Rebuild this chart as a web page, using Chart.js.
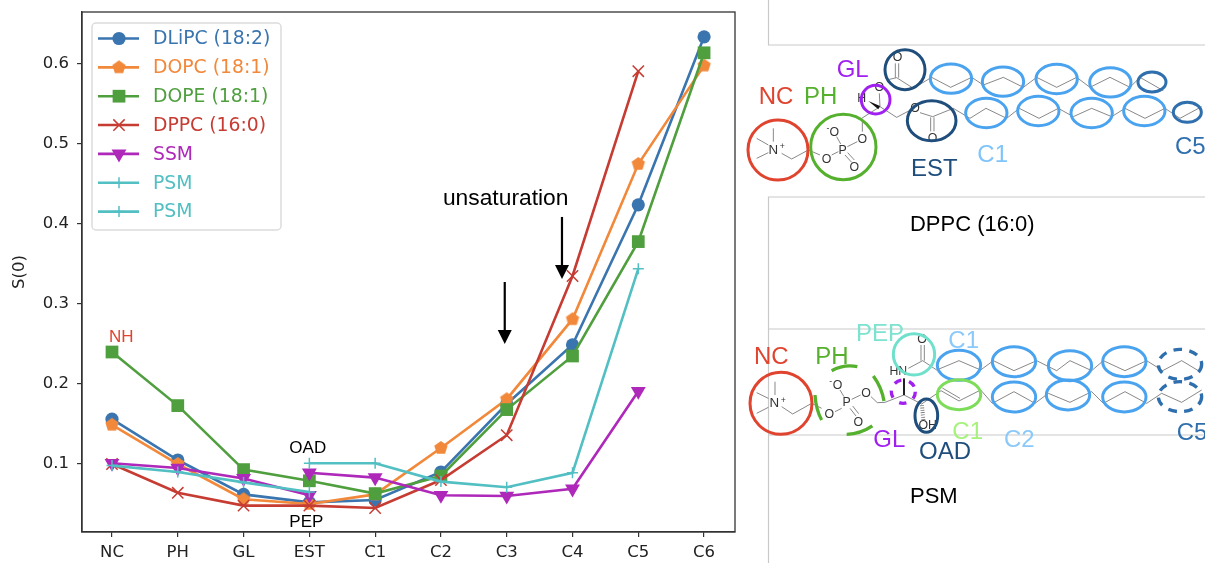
<!DOCTYPE html>
<html>
<head>
<meta charset="utf-8">
<title>S(0)</title>
<script src="https://cdn.jsdelivr.net/npm/chart.js@4"></script>
<style>
  html, body { margin: 0; padding: 0; background: #fff; }
  #wrap { position: relative; width: 1205px; height: 563px; overflow: hidden; }
  #myChart { position: absolute; left: 0; top: 0; }
  #scheme { position: absolute; left: 0; top: 0; pointer-events: none; }
  #scheme text { font-family: "Liberation Sans", sans-serif; }
  .box { fill: none; stroke: #c9c9c9; stroke-width: 1.2; }
  .bond { fill: none; stroke: #5c5c5c; stroke-width: 2.2; }
  .atom { font-size: 37px; fill: #333; text-anchor: middle; }
  .lab { font-size: 72px; }
  .ring { fill: none; stroke-width: 9; }
</style>
</head>
<body>
<div id="wrap">
<canvas id="myChart" width="1205" height="563"></canvas>
<svg id="scheme" width="1205" height="563" viewBox="0 0 1205 563">
  <!-- grey frame lines left over from the molecule panels -->
  <path class="box" d="M768.5 0V45H1205M768.5 563V197H1205M768.5 329H1205M768.5 435H1205"/>

  <!-- DPPC, coordinates in 3x units -->
  <g transform="translate(740,0) scale(0.33333)">
    <path class="bond" d="M440 240L470 233L520 265L575 232L632 262L695 232L730 255L790 232L850 262L890 232L950 262L1010 232L1050 262L1110 232L1170 262L1200 232L1270 272"/>
    <path class="bond" d="M365 355L420 320L470 352L508 332M540 338L578 350L640 325L690 355L738 325L800 355L838 325L897 355L955 325L1000 350L1055 325L1115 350L1155 325L1215 355L1275 325L1320 355L1385 320"/>
    <path class="bond" d="M466 233V190M476 233V190M572 352V394M582 352V394M418 280L420 320"/>
    <path class="bond" d="M100 385V425M50 415L85 435M50 475L85 458M125 460L155 477L205 450L240 465M275 465L295 455M290 410L302 432M315 465L335 487M323 458L343 480M322 440L352 425M367 395V360"/>
    <path d="M385 303L420 318L415 328Z" fill="#111"/>
    <text class="atom" x="473" y="183">O</text>
    <text class="atom" x="418" y="273">O</text>
    <text class="atom" x="525" y="336">O</text>
    <text class="atom" x="578" y="426">O</text>
    <text class="atom" x="365" y="306">H</text>
    <text class="atom" x="100" y="462" style="font-size:40px">N</text>
    <text class="atom" x="127" y="448" style="font-size:26px">+</text>
    <text class="atom" x="260" y="488">O</text>
    <text class="atom" x="308" y="462">P</text>
    <text class="atom" x="283" y="408">O</text>
    <text class="atom" x="264" y="393" style="font-size:26px">-</text>
    <text class="atom" x="343" y="512">O</text>
    <text class="atom" x="367" y="428">O</text>
    <circle class="ring" cx="114" cy="450" r="90" stroke="#e0432e"/>
    <circle class="ring" cx="310" cy="441" r="98" stroke="#55b02e"/>
    <circle class="ring" cx="407" cy="299" r="43" stroke="#a020f0"/>
    <circle class="ring" cx="495" cy="209" r="60" stroke="#1f4e7d"/>
    <ellipse class="ring" cx="575" cy="362" rx="73" ry="60" stroke="#1f4e7d"/>
    <g stroke="#4aa3ef">
      <ellipse class="ring" cx="633" cy="236" rx="62" ry="44"/>
      <ellipse class="ring" cx="789" cy="245" rx="62" ry="44"/>
      <ellipse class="ring" cx="950" cy="237" rx="62" ry="44"/>
      <ellipse class="ring" cx="1111" cy="247" rx="62" ry="44"/>
      <ellipse class="ring" cx="739" cy="339" rx="62" ry="44"/>
      <ellipse class="ring" cx="895" cy="333" rx="62" ry="44"/>
      <ellipse class="ring" cx="1055" cy="339" rx="62" ry="44"/>
      <ellipse class="ring" cx="1213" cy="333" rx="62" ry="44"/>
    </g>
    <ellipse class="ring" cx="1236" cy="246" rx="42" ry="30" stroke="#2f6fae"/>
    <ellipse class="ring" cx="1342" cy="337" rx="42" ry="30" stroke="#2f6fae"/>
    <text class="lab" x="56" y="313" fill="#e0432e">NC</text>
    <text class="lab" x="192" y="313" fill="#55b02e">PH</text>
    <text class="lab" x="290" y="232" fill="#a020f0">GL</text>
    <text class="lab" x="513" y="527" fill="#1f4e7d">EST</text>
    <text class="lab" x="712" y="487" fill="#7fc4fa">C1</text>
    <text class="lab" x="1305" y="462" fill="#2f6fae">C5</text>
    <text x="510" y="693" style="font-size:66px" fill="#000">DPPC (16:0)</text>
  </g>

  <!-- PSM, coordinates in 3x units -->
  <g transform="translate(740,300) scale(0.33333)">
    <path class="bond" d="M505 205L548 182L590 210L657 182L722 210L760 182L822 212L890 182L950 212L990 182L1055 212L1090 182L1155 212L1220 182L1268 212L1325 182L1380 215"/>
    <path class="bond" d="M393 290L412 308L435 307L492 285L545 312L603 272L657 303L722 270L757 310L822 275L885 310L925 280L990 307L1055 275L1090 310L1155 275L1220 310L1265 280L1325 307L1385 270"/>
    <path class="bond" d="M607 264L660 295M543 182V135M553 182V135"/>
    <path class="bond" d="M105 245V285M50 278L85 295M50 340L85 322M125 320L158 342L215 310L245 325M285 335L305 325M300 270L312 290M330 325L348 348M338 318L356 341M335 298L362 285"/>
    <path d="M492 235V285" stroke="#222" stroke-width="6" fill="none"/>
    <path d="M546 316L550 360" stroke="#555" stroke-width="12" stroke-dasharray="2 5" fill="none"/>
    <text class="atom" x="546" y="128">O</text>
    <text class="atom" x="475" y="225">HN</text>
    <text class="atom" x="563" y="388">OH</text>
    <text class="atom" x="103" y="322" style="font-size:40px">N</text>
    <text class="atom" x="130" y="308" style="font-size:26px">+</text>
    <text class="atom" x="268" y="355">O</text>
    <text class="atom" x="320" y="318">P</text>
    <text class="atom" x="293" y="268">O</text>
    <text class="atom" x="272" y="253" style="font-size:26px">-</text>
    <text class="atom" x="355" y="378">O</text>
    <text class="atom" x="378" y="290">O</text>
    <circle class="ring" cx="123" cy="310" r="93" stroke="#e0432e"/>
    <circle class="ring" cx="522" cy="163" r="62" stroke="#6fe0cc"/>
    <path d="M275 212Q312 192 352 200M400 228Q425 262 432 303M320 403Q362 402 397 378M225 285Q228 330 245 360" fill="none" stroke="#55b02e" stroke-width="10"/>
    <ellipse cx="490" cy="275" rx="36" ry="35" fill="none" stroke="#a020f0" stroke-width="10" stroke-dasharray="22 24"/>
    <ellipse class="ring" cx="559" cy="347" rx="34" ry="50" stroke="#1f4e7d"/>
    <g stroke="#4aa3ef">
      <ellipse class="ring" cx="657" cy="196" rx="65" ry="45"/>
      <ellipse class="ring" cx="822" cy="185" rx="65" ry="45"/>
      <ellipse class="ring" cx="990" cy="197" rx="65" ry="45"/>
      <ellipse class="ring" cx="1153" cy="185" rx="65" ry="45"/>
      <ellipse class="ring" cx="822" cy="291" rx="65" ry="45"/>
      <ellipse class="ring" cx="984" cy="285" rx="65" ry="45"/>
      <ellipse class="ring" cx="1153" cy="291" rx="65" ry="45"/>
    </g>
    <ellipse class="ring" cx="657" cy="284" rx="65" ry="45" stroke="#7ddc5a"/>
    <ellipse cx="1320" cy="193" rx="65" ry="45" fill="none" stroke="#2f6fae" stroke-width="10" stroke-dasharray="26 22"/>
    <ellipse cx="1320" cy="290" rx="65" ry="45" fill="none" stroke="#2f6fae" stroke-width="10" stroke-dasharray="26 22"/>
    <text class="lab" x="42" y="193" fill="#e0432e">NC</text>
    <text class="lab" x="226" y="192" fill="#55b02e">PH</text>
    <text class="lab" x="348" y="123" fill="#7be3cf">PEP</text>
    <text class="lab" x="625" y="143" fill="#8cc9fb">C1</text>
    <text class="lab" x="400" y="442" fill="#a020f0">GL</text>
    <text class="lab" x="537" y="477" fill="#1f4e7d">OAD</text>
    <text class="lab" x="637" y="418" fill="#a5f27c">C1</text>
    <text class="lab" x="792" y="442" fill="#8cc9fb">C2</text>
    <text class="lab" x="1310" y="420" fill="#2f6fae">C5</text>
    <text x="510" y="610" style="font-size:66px" fill="#000">PSM</text>
  </g>
</svg>
</div>

<script>
const categories = ["NC", "PH", "GL", "EST", "C1", "C2", "C3", "C4", "C5", "C6"];
const yTicks = [0.1, 0.2, 0.3, 0.4, 0.5, 0.6];

const dlipc = [0.156, 0.105, 0.062, 0.052, 0.055, 0.090, 0.175, 0.249, 0.424, 0.634];
const dopc  = [0.149, 0.100, 0.056, 0.050, 0.062, 0.120, 0.181, 0.281, 0.475, 0.598];
const dope  = [0.240, 0.173, 0.093, 0.079, 0.063, 0.085, 0.168, 0.235, 0.378, 0.614];
const dppc  = [0.100, 0.064, 0.048, 0.048, 0.045, 0.080, 0.136, 0.335, 0.591, null];
// SSM and PSM are split in two at EST (PEP branch and OAD branch)
const ssmHead = [0.101, 0.095, 0.082, 0.061, null, null, null, null, null, null];
const ssmTail = [null, null, null, 0.089, 0.083, 0.061, 0.060, 0.069, 0.191, null];
const psmHead = [0.098, 0.090, 0.077, 0.065, null, null, null, null, null, null];
const psmTail = [null, null, null, 0.101, 0.101, 0.078, 0.071, 0.089, 0.344, null];

const blue = "#3a75b0", orange = "#f2883a", green = "#4f9f3f", red = "#c63c32", purple = "#ae28b9", cyan = "#52bfc3";

// Chart.js has no pentagon, so make one
function pentagon(r, color){
  const c = document.createElement("canvas");
  c.width = c.height = 2*r + 2;
  const g = c.getContext("2d");
  g.fillStyle = color;
  g.beginPath();
  for(let i=0; i<5; i++){
    const a = -Math.PI/2 + i*2*Math.PI/5;
    g.lineTo(r + 1 + r*Math.cos(a), r + 1 + r*Math.sin(a));
  }
  g.closePath();
  g.fill();
  return c;
}

function series(label, values, color, style, radius, rotation, inLegend){
  return {
    label: label,
    data: values.map((y, i) => ({x: i, y: y})),
    borderColor: color,
    backgroundColor: color,
    borderWidth: 2.6,
    tension: 0,
    spanGaps: false,
    pointStyle: style,
    pointRadius: radius,
    pointHoverRadius: radius,
    pointRotation: rotation,
    pointBorderColor: color,
    pointBackgroundColor: color,
    pointBorderWidth: (style == "cross" || style == "crossRot") ? 1.5 : 0,
    inLegend: inLegend
  };
}

const datasets = [
  series("DLiPC (18:2)", dlipc, blue, "circle", 6.6, 0, true),
  series("DOPC (18:1)", dopc, orange, pentagon(7, orange), 7, 0, true),
  series("DOPE (18:1)", dope, green, "rect", 9, 0, true),
  series("DPPC (16:0)", dppc, red, "crossRot", 8, 0, true),
  series("SSM", ssmHead, purple, "triangle", 8.6, 180, true),
  series("SSM", ssmTail, purple, "triangle", 8.6, 180, false),
  series("PSM", psmHead, cyan, "cross", 5.5, 0, true),
  series("PSM", psmTail, cyan, "cross", 5.5, 0, true)
];
// later series sit on top, as in the original
datasets.forEach((d, i) => d.order = datasets.length - i);

const notes = [
  {text: "NH", x: 0, y: 0.2525, color: "#e0432e", size: 17, dx: -3},
  {text: "OAD", x: 3, y: 0.114, color: "#000", size: 17, dx: -20},
  {text: "PEP", x: 3, y: 0.0213, color: "#000", size: 17, dx: -20},
  {text: "unsaturation", x: 5, y: 0.4238, color: "#000", size: 22.8, dx: 2}
];
const arrows = [
  {x: 6.84, from: 0.4088, to: 0.3313},
  {x: 5.97, from: 0.3275, to: 0.25}
];

const frameAndNotes = {
  id: "frameAndNotes",
  afterDraw(chart){
    const ctx = chart.ctx, area = chart.chartArea;
    const xs = chart.scales.x, ys = chart.scales.y;
    ctx.save();

    // matplotlib style frame on all sides
    ctx.strokeStyle = "#333";
    ctx.lineWidth = 1.3;
    ctx.strokeRect(area.left, area.top, area.right - area.left, area.bottom - area.top);

    ctx.textAlign = "left";
    ctx.textBaseline = "alphabetic";
    notes.forEach(n => {
      ctx.font = n.size + 'px "Liberation Sans"';
      ctx.fillStyle = n.color;
      ctx.fillText(n.text, xs.getPixelForValue(n.x) + n.dx, ys.getPixelForValue(n.y));
    });

    ctx.strokeStyle = "#000";
    ctx.fillStyle = "#000";
    ctx.lineWidth = 2.2;
    arrows.forEach(a => {
      const x = xs.getPixelForValue(a.x), y0 = ys.getPixelForValue(a.from), y1 = ys.getPixelForValue(a.to);
      ctx.beginPath();
      ctx.moveTo(x, y0);
      ctx.lineTo(x, y1 - 10);
      ctx.stroke();
      ctx.beginPath();
      ctx.moveTo(x - 7, y1 - 14);
      ctx.lineTo(x + 7, y1 - 14);
      ctx.lineTo(x, y1);
      ctx.closePath();
      ctx.fill();
    });

    // legend inside the axes
    ctx.beginPath();
    ctx.roundRect(92, 23, 189, 207, 4);
    ctx.fillStyle = "rgba(255,255,255,0.8)";
    ctx.fill();
    ctx.strokeStyle = "#dcdcdc";
    ctx.lineWidth = 1.5;
    ctx.stroke();
    let y = 38.5;
    chart.data.datasets.filter(d => d.inLegend).forEach(d => {
      ctx.strokeStyle = d.borderColor;
      ctx.fillStyle = d.backgroundColor;
      ctx.lineWidth = d.borderWidth;
      ctx.beginPath();
      ctx.moveTo(98, y);
      ctx.lineTo(139, y);
      ctx.stroke();
      ctx.lineWidth = d.pointBorderWidth;
      Chart.helpers.drawPoint(ctx, {
        pointStyle: d.pointStyle,
        radius: d.pointRadius,
        rotation: d.pointRotation,
        borderWidth: d.pointBorderWidth
      }, 119, y);
      ctx.fillStyle = d.borderColor;
      ctx.font = '18.8px "DejaVu Sans"';
      ctx.textBaseline = "middle";
      ctx.fillText(d.label, 153, y + 1);
      y += 28.85;
    });
    ctx.restore();
  }
};

const tickFont = {family: "DejaVu Sans", size: 16.5};

new Chart("myChart", {
  type: "line",
  data: {datasets: datasets},
  plugins: [frameAndNotes],
  options: {
    responsive: false,
    animation: false,
    layout: {padding: {left: 0, top: 12, right: 470, bottom: 0}},
    plugins: {legend: {display: false}, title: {display: false}, tooltip: {enabled: false}},
    scales: {
      x: {
        type: "linear",
        min: -0.456,
        max: 9.47,
        afterBuildTicks(s){ s.ticks = categories.map((c, i) => ({value: i})); },
        afterFit(s){ s.height = 31; s.paddingLeft = 0; s.paddingRight = 0; },
        ticks: {
          autoSkip: false,
          maxRotation: 0,
          padding: 6,
          color: "#222",
          font: tickFont,
          callback: v => categories[v]
        },
        border: {color: "#333", width: 1.3},
        grid: {drawOnChartArea: false, drawTicks: true, tickLength: 5, color: "#333", lineWidth: 1.2}
      },
      y: {
        min: 0.015,
        max: 0.665,
        afterBuildTicks(s){ s.ticks = yTicks.map(v => ({value: v})); },
        afterFit(s){ s.width = 82; s.paddingTop = 0; s.paddingBottom = 0; },
        ticks: {
          padding: 8,
          color: "#222",
          font: tickFont,
          callback: v => v.toFixed(1)
        },
        title: {display: true, text: "S(0)", color: "#222", font: tickFont, padding: {top: 10, bottom: 0}},
        border: {color: "#333", width: 1.3},
        grid: {drawOnChartArea: false, drawTicks: true, tickLength: 5, color: "#333", lineWidth: 1.2}
      }
    }
  }
});
</script>
</body>
</html>
